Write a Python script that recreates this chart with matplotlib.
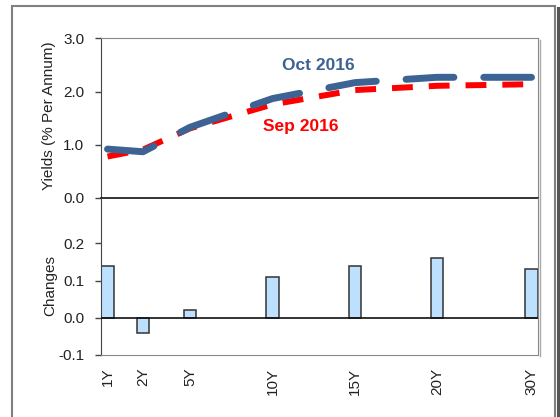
import matplotlib
matplotlib.use('Agg')
import matplotlib.pyplot as plt
from matplotlib.patches import Rectangle
from matplotlib.lines import Line2D

# ---- data ----
tenors = ['1Y', '2Y', '5Y', '10Y', '15Y', '20Y', '30Y']
oct_2016 = [0.92, 0.87, 1.33, 1.87, 2.17, 2.27, 2.27]
sep_2016 = [0.78, 0.91, 1.31, 1.76, 2.03, 2.11, 2.14]
changes = [0.14, -0.04, 0.02, 0.11, 0.14, 0.16, 0.13]
yield_ticks = [0.0, 1.0, 2.0, 3.0]
change_ticks = [-0.1, 0.0, 0.1, 0.2]

# ---- layout (horizontal placement of tenors along the axis) ----
xpos = [6.5, 42, 89, 171.5, 254, 336, 430.5]
XMAX = 437

plt.rcParams['font.family'] = ['Liberation Sans', 'DejaVu Sans']
plt.rcParams['lines.scale_dashes'] = False

W, H = 560, 417
fig = plt.figure(figsize=(W / 100, H / 100), dpi=100)


def fx(px):
    return px / W


def fy(py):
    return 1 - py / H


BLUE = '#3C6393'
RED = '#FF0000'
TXT = '#222222'

ax1 = fig.add_axes([fx(101), fy(198), fx(538) - fx(101), (198 - 38.5) / H])
ax2 = fig.add_axes([fx(101), fy(355), fx(538) - fx(101), (355 - 198) / H])

# top panel: yield curves
ax1.plot(xpos, sep_2016, color=RED, lw=4.3, dashes=(15, 11.5),
         dash_capstyle='butt', zorder=3)
ax1.plot(xpos, oct_2016, color=BLUE, lw=5, dashes=(34.5, 21.5),
         dash_capstyle='round', zorder=4)
ax1.text(217, 2.49, 'Oct 2016', color=BLUE, fontsize=12.5, fontweight='bold',
         ha='center', va='center')
ax1.text(199.7, 1.35, 'Sep 2016', color=RED, fontsize=12.5, fontweight='bold',
         ha='center', va='center')
ax1.set_xlim(0, XMAX)
ax1.set_ylim(0, 3)
ax1.set_xticks([])
ax1.set_yticks(yield_ticks)
ax1.set_yticklabels(['%.1f' % v for v in yield_ticks])

# bottom panel: changes
ax2.bar(xpos, changes, width=12.5, color='#BDE0FF', edgecolor='#333333',
        linewidth=1.1, zorder=2)
ax2.axhline(0, color='#111111', lw=1.2, zorder=3)
ax2.set_xlim(0, XMAX)
ax2.set_ylim(-0.1, 0.322)
ax2.set_yticks(change_ticks)
ax2.set_yticklabels(['%.1f' % v for v in change_ticks])
ax2.set_xticks(xpos)
ax2.set_xticklabels(tenors, rotation=90, va='top', ha='center')
ax2.tick_params(axis='x', length=0, pad=9, labelsize=11, labelcolor=TXT)

for ax in (ax1, ax2):
    ax.tick_params(axis='y', direction='out', length=4, width=1,
                   color='#444444', pad=8, labelsize=11, labelcolor=TXT)
    ax.spines['left'].set_color('#444444')
    ax.spines['right'].set_color('#888888')
    ax.spines['top'].set_color('#888888')
    ax.spines['bottom'].set_color('#888888')
    ax.set_facecolor('white')
    ax.patch.set_alpha(0)

ax1.spines['bottom'].set_color('#111111')
ax1.spines['bottom'].set_linewidth(1.2)
ax2.spines['top'].set_visible(False)

# axis titles
fig.text(fx(49), fy(116), 'Yields (% Per Annum)', rotation=90, ha='center',
         va='center', fontsize=11, color=TXT)
fig.text(fx(50.5), fy(286), 'Changes', rotation=90, ha='center',
         va='center', fontsize=11, color=TXT)

# outer chart frame with shadow
fig.add_artist(Rectangle((fx(12), -0.05), fx(555) - fx(12), fy(5.5) + 0.05,
                         transform=fig.transFigure, fill=False,
                         edgecolor='#808080', lw=1.5))
fig.add_artist(Line2D([fx(557.5), fx(557.5)], [0, fy(8)],
                      transform=fig.transFigure, color='#555555', lw=2.2))
# plot-area shadow
fig.add_artist(Line2D([fx(539.8), fx(539.8)], [fy(356), fy(40)],
                      transform=fig.transFigure, color='#aaaaaa', lw=1))

fig.savefig('out.png', dpi=100)
